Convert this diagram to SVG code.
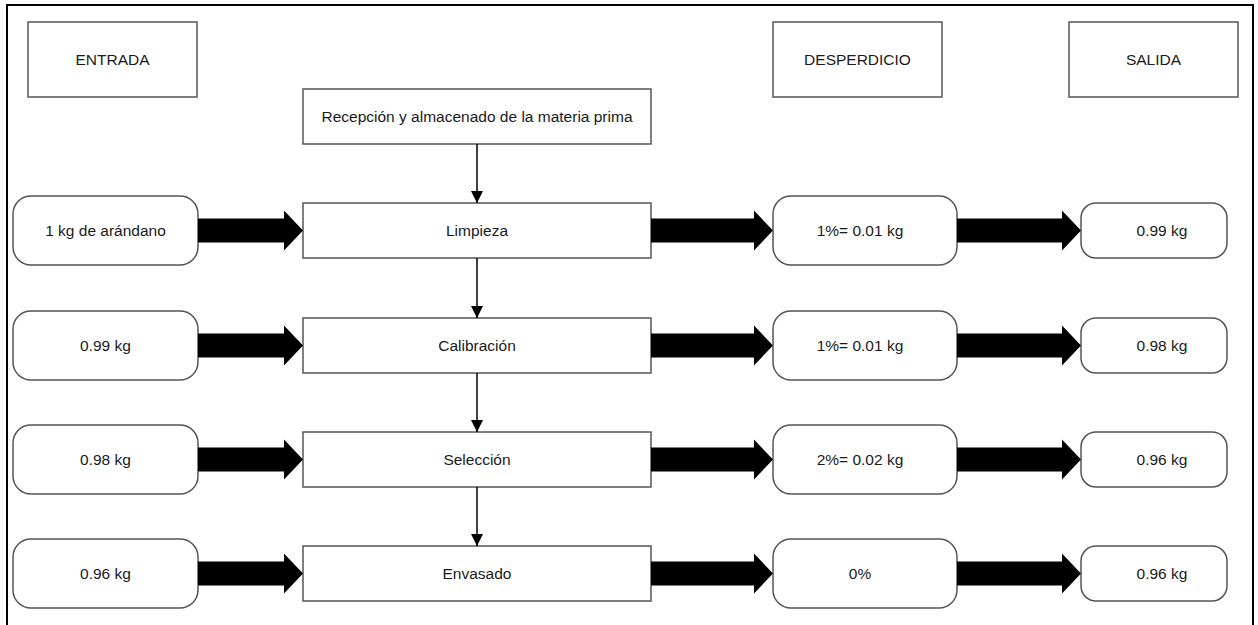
<svg xmlns="http://www.w3.org/2000/svg" width="1258" height="625" viewBox="0 0 1258 625">
  <defs>
    <style>
      .box { fill: #ffffff; stroke: #555555; stroke-width: 1.5; }
      .lbl { font-family: "Liberation Sans", Arial, sans-serif; font-size: 15.5px; fill: #1a1a1a; text-anchor: middle; dominant-baseline: central; }
      .thick { fill: #000000; }
      .thin { stroke: #000000; stroke-width: 1.5; fill: none; }
    </style>
    <marker id="tip" markerWidth="12" markerHeight="14" refX="12" refY="7" orient="auto" markerUnits="userSpaceOnUse">
      <path d="M0,1 L12,7 L0,13 Z" fill="#000000"/>
    </marker>
  </defs>

  <!-- page frame -->
  <rect x="0" y="0" width="1258" height="625" fill="#ffffff"/>
  <path d="M7,630 L7,5 L1253,5 L1253,630" fill="none" stroke="#000000" stroke-width="2"/>

  <!-- column headers -->
  <g id="hdr-entrada"><rect class="box" x="28" y="22" width="169" height="75"/><text class="lbl" x="112.5" y="59.5">ENTRADA</text></g>
  <g id="hdr-desperdicio"><rect class="box" x="773" y="22" width="169" height="75"/><text class="lbl" x="857.5" y="59.5">DESPERDICIO</text></g>
  <g id="hdr-salida"><rect class="box" x="1069" y="22" width="169" height="75"/><text class="lbl" x="1153.5" y="59.5">SALIDA</text></g>

  <!-- process steps -->
  <g id="recepcion"><rect class="box" x="303" y="89" width="348" height="55"/><text class="lbl" x="477" y="116.5">Recepción y almacenado de la materia prima</text></g>
  <g id="limpieza"><rect class="box" x="303" y="203" width="348" height="55"/><text class="lbl" x="477" y="230.5">Limpieza</text></g>
  <g id="calibracion"><rect class="box" x="303" y="318" width="348" height="55"/><text class="lbl" x="477" y="345.5">Calibración</text></g>
  <g id="seleccion"><rect class="box" x="303" y="432" width="348" height="55"/><text class="lbl" x="477" y="459.5">Selección</text></g>
  <g id="envasado"><rect class="box" x="303" y="546" width="348" height="55"/><text class="lbl" x="477" y="573.5">Envasado</text></g>

  <!-- inputs -->
  <g id="in-1"><rect class="box" x="13" y="196" width="185" height="69" rx="18"/><text class="lbl" x="105.5" y="230.5">1 kg de arándano</text></g>
  <g id="in-2"><rect class="box" x="13" y="311" width="185" height="69" rx="18"/><text class="lbl" x="105.5" y="345.5">0.99 kg</text></g>
  <g id="in-3"><rect class="box" x="13" y="425" width="185" height="69" rx="18"/><text class="lbl" x="105.5" y="459.5">0.98 kg</text></g>
  <g id="in-4"><rect class="box" x="13" y="539" width="185" height="69" rx="18"/><text class="lbl" x="105.5" y="573.5">0.96 kg</text></g>

  <!-- waste -->
  <g id="waste-1"><rect class="box" x="773" y="196" width="184" height="69" rx="18"/><text class="lbl" x="860" y="230.5">1%= 0.01 kg</text></g>
  <g id="waste-2"><rect class="box" x="773" y="311" width="184" height="69" rx="18"/><text class="lbl" x="860" y="345.5">1%= 0.01 kg</text></g>
  <g id="waste-3"><rect class="box" x="773" y="425" width="184" height="69" rx="18"/><text class="lbl" x="860" y="459.5">2%= 0.02 kg</text></g>
  <g id="waste-4"><rect class="box" x="773" y="539" width="184" height="69" rx="18"/><text class="lbl" x="860" y="573.5">0%</text></g>

  <!-- outputs -->
  <g id="out-1"><rect class="box" x="1081" y="203" width="146" height="55" rx="15"/><text class="lbl" x="1162" y="230.5">0.99 kg</text></g>
  <g id="out-2"><rect class="box" x="1081" y="318" width="146" height="55" rx="15"/><text class="lbl" x="1162" y="345.5">0.98 kg</text></g>
  <g id="out-3"><rect class="box" x="1081" y="432" width="146" height="55" rx="15"/><text class="lbl" x="1162" y="459.5">0.96 kg</text></g>
  <g id="out-4"><rect class="box" x="1081" y="546" width="146" height="55" rx="15"/><text class="lbl" x="1162" y="573.5">0.96 kg</text></g>

  <!-- connectors -->
  <g id="connectors">
    <!-- vertical flow between steps -->
    <line class="thin" x1="477" y1="144" x2="477" y2="203" marker-end="url(#tip)"/>
    <line class="thin" x1="477" y1="258" x2="477" y2="318" marker-end="url(#tip)"/>
    <line class="thin" x1="477" y1="373" x2="477" y2="432" marker-end="url(#tip)"/>
    <line class="thin" x1="477" y1="487" x2="477" y2="546" marker-end="url(#tip)"/>

    <!-- block arrows: input -> step -> waste -> output -->
    <path class="thick" d="M198,218.5 H284 V210.5 L303,230.5 L284,250.5 V242.5 H198 Z"/>
    <path class="thick" d="M651,218.5 H754 V210.5 L773,230.5 L754,250.5 V242.5 H651 Z"/>
    <path class="thick" d="M957,218.5 H1062 V210.5 L1081,230.5 L1062,250.5 V242.5 H957 Z"/>

    <path class="thick" d="M198,333.5 H284 V325.5 L303,345.5 L284,365.5 V357.5 H198 Z"/>
    <path class="thick" d="M651,333.5 H754 V325.5 L773,345.5 L754,365.5 V357.5 H651 Z"/>
    <path class="thick" d="M957,333.5 H1062 V325.5 L1081,345.5 L1062,365.5 V357.5 H957 Z"/>

    <path class="thick" d="M198,447.5 H284 V439.5 L303,459.5 L284,479.5 V471.5 H198 Z"/>
    <path class="thick" d="M651,447.5 H754 V439.5 L773,459.5 L754,479.5 V471.5 H651 Z"/>
    <path class="thick" d="M957,447.5 H1062 V439.5 L1081,459.5 L1062,479.5 V471.5 H957 Z"/>

    <path class="thick" d="M198,561.5 H284 V553.5 L303,573.5 L284,593.5 V585.5 H198 Z"/>
    <path class="thick" d="M651,561.5 H754 V553.5 L773,573.5 L754,593.5 V585.5 H651 Z"/>
    <path class="thick" d="M957,561.5 H1062 V553.5 L1081,573.5 L1062,593.5 V585.5 H957 Z"/>
  </g>
</svg>
